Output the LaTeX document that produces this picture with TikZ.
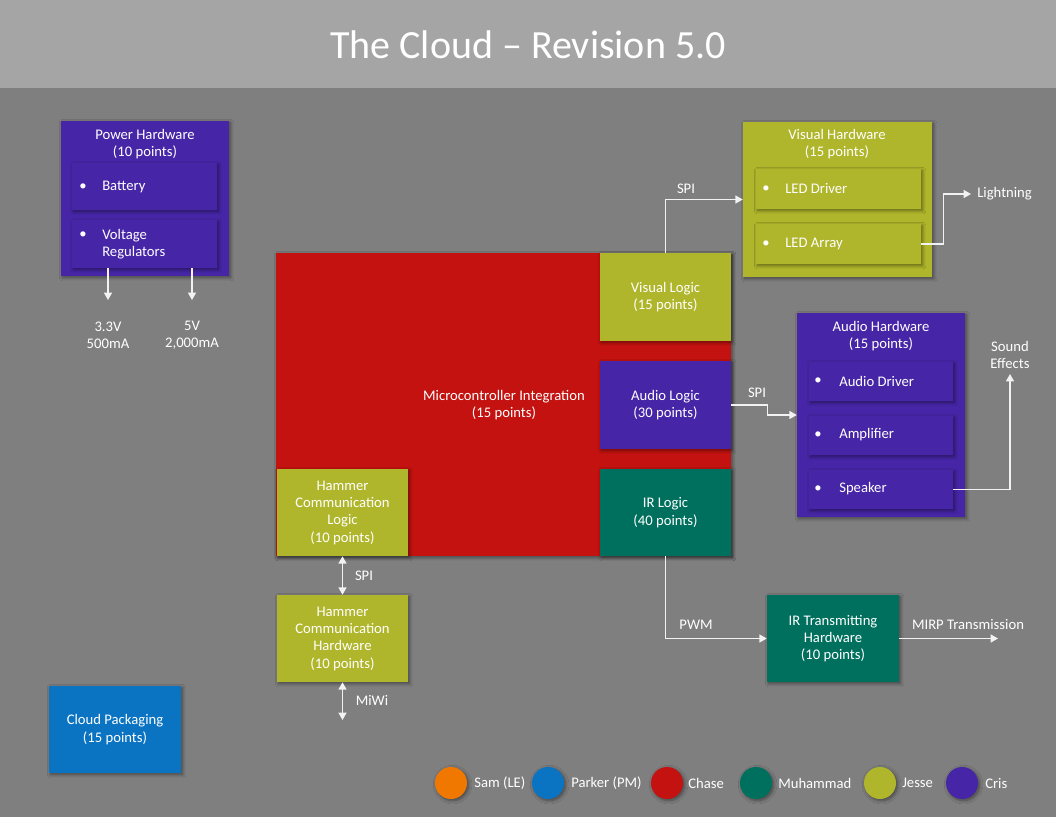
\documentclass[tikz,border=0pt]{standalone}
\usepackage{fontspec}
\setmainfont{Carlito}
\usetikzlibrary{fit,shadows.blur,arrows.meta}
\definecolor{bgc}{HTML}{7F7F7F}
\definecolor{titlec}{HTML}{A5A5A5}
\definecolor{cpurple}{HTML}{4626A6}
\definecolor{colive}{HTML}{B0B62B}
\definecolor{cred}{HTML}{C3120F}
\definecolor{cteal}{HTML}{00705E}
\definecolor{cblue}{HTML}{0A73C2}
\definecolor{corange}{HTML}{F07800}
\newcommand{\bodyfont}{\fontsize{11}{13}\selectfont}
\begin{document}
\begin{tikzpicture}[x=0.75pt,y=-0.75pt,
  shad/.style={blur shadow={shadow xshift=1.2pt,shadow yshift=-1.2pt,shadow blur steps=6,shadow blur radius=2.5pt,shadow opacity=45}},
  txt/.style={text=white,font=\bodyfont,inner sep=0pt,align=center},
  blk/.style={shad,draw=none,inner sep=0pt},
  btext/.style={label={[txt]center:{#1}}},
  inbox/.style={blk},
  ltxt/.style={txt,anchor=west},
  conn/.style={draw=white!95!black,line width=1pt,-{Triangle[length=5.5pt,width=6pt]}},
  dconn/.style={draw=white!95!black,line width=1pt,{Triangle[length=5.5pt,width=6pt]}-{Triangle[length=5.5pt,width=6pt]}},
  leg/.style={circle,minimum size=24pt,inner sep=0pt,shad}
]
\fill[bgc] (0,0) rectangle (1056,817);
\useasboundingbox (0,0) rectangle (1056,817);
\fill[titlec] (0,0) rectangle (1056,88);
\node[text=white,font=\fontsize{30}{34}\selectfont] (title) at (528,45) {The Cloud – Revision 5.0};

% Power hardware
\node[blk,fill=cpurple,fit={(61,121)(229,276)}] (pw) {};
\node[txt] (pwt) at (145,144) {Power Hardware\\(10 points)};
\node[inbox,fill=cpurple,fit={(72,163)(217,210)}] (bat) {};
\node[txt] (batb) at (83,187) {•};
\node[ltxt] (batt) at (102,187) {Battery};
\node[inbox,fill=cpurple,fit={(72,220)(217,268)}] (vreg) {};
\node[txt] (vregb) at (83,235) {•};
\node[ltxt,align=left] (vregt) at (102,244) {Voltage\\Regulators};
\coordinate (p33) at (108,300);
\coordinate (p5) at (192,300);
\draw[conn] (vreg.south -| p33) -- (p33);
\draw[conn] (vreg.south -| p5) -- (p5);
\node[txt] (l33) at (108,335) {3.3V\\500mA};
\node[txt] (l5) at (192,335) {5V\\2,000mA};

% Microcontroller
\node[blk,fill=cred,fit={(276,253)(731,556)}] (mc) {};
\node[txt] (mct) at (504,405) {Microcontroller Integration\\(15 points)};
\node[blk,fill=colive,fit={(600,253)(731,341)},btext={Visual Logic\\(15 points)}] (vl) {};
\node[blk,fill=cpurple,fit={(600,361)(731,449)},btext={Audio Logic\\(30 points)}] (al) {};
\node[blk,fill=cteal,fit={(600,469)(731,556)},btext={IR Logic\\(40 points)}] (irl) {};
\node[blk,fill=colive,fit={(277,469)(408,556)},btext={Hammer\\Communication\\Logic\\(10 points)}] (hcl) {};
\node[blk,fill=colive,fit={(277,595)(408,682)},btext={Hammer\\Communication\\Hardware\\(10 points)}] (hch) {};
\draw[dconn] (hcl.south) -- (hch.north);
\node[txt] (spih) at (364,576) {SPI};
\coordinate (miwi) at (342.5,720);
\draw[dconn] (hch.south) -- (miwi);
\node[txt] (miwit) at (372,700) {MiWi};

% Cloud packaging
\node[blk,fill=cblue,fit={(49,686)(181,773)},btext={Cloud Packaging\\(15 points)}] (cp) {};

% Visual hardware
\node[blk,fill=colive,fit={(743,122)(932,277)}] (vh) {};
\node[txt] (vht) at (837,144) {Visual Hardware\\(15 points)};
\node[inbox,fill=colive,fit={(756,169)(921,209)}] (ledd) {};
\node[txt] (leddb) at (766,189) {•};
\node[ltxt] (leddt) at (785,189) {LED Driver};
\node[inbox,fill=colive,fit={(756,224)(921,264)}] (leda) {};
\node[txt] (ledab) at (766,244) {•};
\node[ltxt] (ledat) at (785,244) {LED Array};
\draw[conn] (vl.north) |- (vh.west);
\node[txt] (spiv) at (686,189) {SPI};
\coordinate (lt) at (971,194);
\draw[conn] (leda.east) -- ++(22,0) |- (lt);
\node[ltxt] (ltt) at (977,194) {Lightning};

% Audio hardware
\node[blk,fill=cpurple,fit={(797,313)(965,517)}] (ah) {};
\node[txt] (aht) at (881,336) {Audio Hardware\\(15 points)};
\node[inbox,fill=cpurple,fit={(809,362)(953,401)}] (ad) {};
\node[txt] (adb) at (818,381) {•};
\node[ltxt] (adt) at (839,381) {Audio Driver};
\node[inbox,fill=cpurple,fit={(809,416)(953,455)}] (amp) {};
\node[txt] (ampb) at (818,435) {•};
\node[ltxt] (ampt) at (839,435) {Amplifier};
\node[inbox,fill=cpurple,fit={(809,470)(953,509)}] (spk) {};
\node[txt] (spkb) at (818,489) {•};
\node[ltxt] (spkt) at (839,489) {Speaker};
\draw[conn] (al.east) -- ++(36,0) |- (ah.west);
\node[txt] (spia) at (757,393) {SPI};
\coordinate (se) at (1010,374);
\draw[conn] (spk.east) -| (se);
\node[txt] (set) at (1010,355) {Sound\\Effects};

% IR transmitting
\node[blk,fill=cteal,fit={(767,595)(899,682)},btext={IR Transmitting\\Hardware\\(10 points)}] (irt) {};
\draw[conn] (irl.south) |- (irt.west);
\node[txt] (pwm) at (696,625) {PWM};
\coordinate (mirp) at (998,638.5);
\draw[conn] (irt.east) -- (mirp);
\node[txt] (mirpt) at (968,625) {MIRP Transmission};

% Legend
\node[leg,fill=corange] (c1) at (451,783) {};
\node[ltxt] (t1) at (474,783) {Sam (LE)};
\node[leg,fill=cblue] (c2) at (548,783) {};
\node[ltxt] (t2) at (571,783) {Parker (PM)};
\node[leg,fill=cred] (c3) at (667,783) {};
\node[ltxt] (t3) at (688,783) {Chase};
\node[leg,fill=cteal] (c4) at (756,783) {};
\node[ltxt] (t4) at (778,783) {Muhammad};
\node[leg,fill=colive] (c5) at (880,783) {};
\node[ltxt] (t5) at (902,783) {Jesse};
\node[leg,fill=cpurple] (c6) at (962,783) {};
\node[ltxt] (t6) at (985,783) {Cris};
\end{tikzpicture}
\end{document}
